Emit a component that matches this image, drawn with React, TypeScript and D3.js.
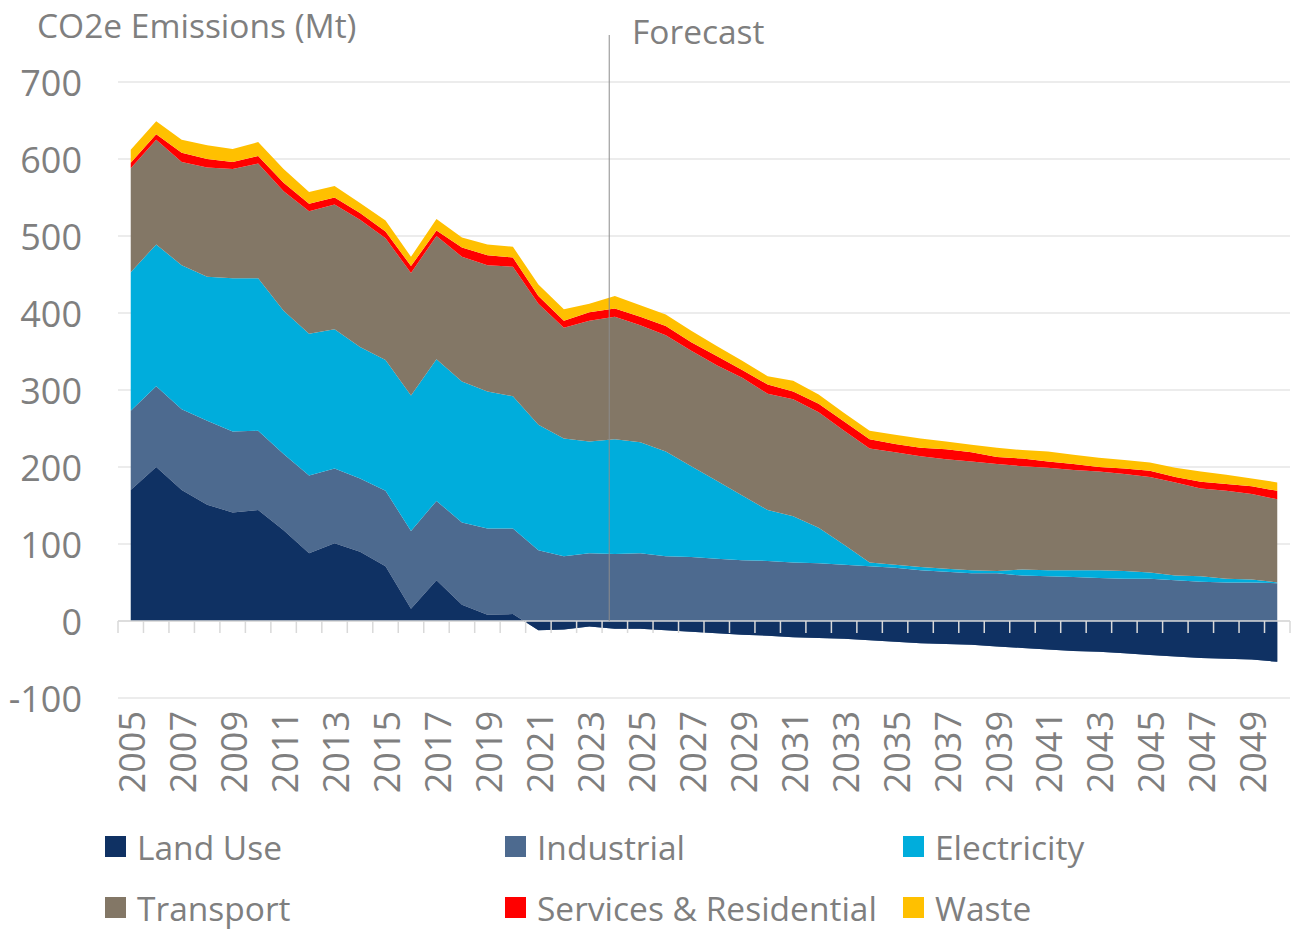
import React from "react";
import * as d3 from "d3";

const years: number[] = d3.range(2005, 2051);
const landUse = [170, 200, 170, 151, 141, 144, 118, 88, 101, 90, 71, 16, 53, 21, 8, 9, -12, -11, -7, -10, -10, -12, -14, -16, -18, -19, -21, -22, -23, -25, -27, -29, -30, -31, -33, -35, -37, -39, -40, -42, -44, -46, -48, -49, -50, -53];
const industrial = [103, 105, 105, 109, 105, 103, 99, 101, 97, 95, 98, 101, 103, 107, 112, 111, 104, 95, 95, 97, 98, 96, 97, 97, 97, 97, 97, 97, 96, 96, 96, 95, 94, 93, 95, 94, 95, 96, 96, 97, 99, 99, 99, 99, 100, 102];
const electricity = [180, 184, 187, 187, 199, 198, 186, 184, 181, 171, 170, 176, 184, 183, 178, 172, 163, 153, 145, 149, 144, 136, 118, 101, 84, 66, 60, 46, 26, 5, 4, 4, 4, 4, 3, 8, 8, 9, 10, 10, 8, 6, 7, 5, 4, 1];
const transport = [135, 136, 134, 142, 142, 149, 155, 159, 162, 165, 158, 159, 160, 162, 164, 168, 157, 144, 157, 159, 152, 151, 150, 150, 153, 151, 152, 150, 148, 148, 146, 144, 142, 141, 139, 134, 133, 130, 128, 126, 124, 121, 114, 114, 111, 108];
const services = [7, 7, 12, 11, 9, 10, 11, 10, 9, 9, 9, 9, 7, 12, 13, 12, 10, 9, 11, 11, 11, 12, 11, 12, 10, 12, 10, 11, 12, 12, 11, 11, 13, 12, 9, 10, 8, 8, 6, 7, 8, 7, 9, 9, 10, 11];
const waste = [17, 17, 17, 18, 17, 18, 18, 15, 15, 13, 14, 12, 15, 13, 14, 14, 15, 15, 11, 16, 15, 15, 15, 13, 12, 11, 14, 12, 11, 11, 12, 12, 10, 10, 12, 11, 13, 12, 12, 11, 11, 12, 13, 12, 10, 11];

const seriesNames = ["Land Use", "Industrial", "Electricity", "Transport", "Services & Residential", "Waste"];
const seriesColors = ["#0F3163", "#4D6A8F", "#00ADDC", "#837766", "#FF0000", "#FFC000"];
const yTicks = [-100, 0, 100, 200, 300, 400, 500, 600, 700];
const forecastYear = 2024;

const W = 1294;
const H = 930;
const FONT = "'Open Sans', 'Noto Sans', sans-serif";
const TEXT = "#7f7f7f";
const WORD_SIZE = 33.5;
const NUM_SIZE = 36;

export default function App() {
  const allSeries = [landUse, industrial, electricity, transport, services, waste];
  const rows = years.map((yr, i) => {
    const r: any = { year: yr };
    seriesNames.forEach((k, j) => (r[k] = allSeries[j][i]));
    return r;
  });
  const stacked = d3.stack<any>().keys(seriesNames).offset(d3.stackOffsetNone)(rows);

  const x = d3.scaleBand<number>().domain(years).range([118, 1290]).paddingInner(0).paddingOuter(0);
  const bw = x.bandwidth();
  const cx = (yr: number) => (x(yr) as number) + bw / 2;
  const y = d3.scaleLinear().domain([-100, 700]).range([698, 82]);

  const area = d3
    .area<any>()
    .x((d) => cx(d.data.year))
    .y0((d) => y(d[0]))
    .y1((d) => y(d[1]));

  const drawOrder = [1, 2, 3, 4, 5, 0];
  const fx = cx(forecastYear) - bw * 0.22;

  const legendCols = [105, 505, 903];
  const legendRows = [847, 908];

  return (
    <svg width={W} height={H} style={{ position: "absolute", left: 0, top: 0, background: "#fff" }} fontFamily={FONT}>
      {yTicks.map((t) => (
        <line key={"g" + t} x1={118} x2={1290} y1={y(t)} y2={y(t)} stroke="#d9d9d9" strokeWidth={1.2} />
      ))}
      {drawOrder.map((j) => (
        <path key={seriesNames[j]} d={area(stacked[j] as any) || ""} fill={seriesColors[j]} />
      ))}
      <line x1={118} x2={1290} y1={y(0)} y2={y(0)} stroke="#d9d9d9" strokeWidth={1.5} />
      {years.concat([2051]).map((yr, i) => {
        const xx = 118 + i * bw;
        return <line key={"t" + yr} x1={xx} x2={xx} y1={y(0)} y2={y(0) + 12} stroke="#d9d9d9" strokeWidth={1.5} />;
      })}
      <line x1={fx} x2={fx} y1={35} y2={y(0)} stroke="#8c8c8c" strokeWidth={1} />
      <text x={632} y={31} dominantBaseline="central" fontSize={WORD_SIZE} fill={TEXT}>Forecast</text>
      <text x={37} y={25} dominantBaseline="central" fontSize={WORD_SIZE} fill={TEXT}>CO2e Emissions (Mt)</text>
      {yTicks.map((t) => (
        <text key={"yl" + t} x={82} y={y(t)} textAnchor="end" dominantBaseline="central" fontSize={NUM_SIZE} fill={TEXT}>
          {t}
        </text>
      ))}
      {years.filter((yr) => (yr - 2005) % 2 === 0).map((yr) => (
        <text
          key={"xl" + yr}
          transform={`translate(${cx(yr) + 1},${711}) rotate(-90)`}
          textAnchor="end"
          dominantBaseline="central"
          fontSize={NUM_SIZE}
          fill={TEXT}
        >
          {yr}
        </text>
      ))}
      {seriesNames.map((name, j) => {
        const lx = legendCols[j % 3];
        const ly = legendRows[Math.floor(j / 3)];
        return (
          <g key={"lg" + name}>
            <rect x={lx} y={ly - 11} width={21} height={21} fill={seriesColors[j]} />
            <text x={lx + 32} y={ly} dominantBaseline="central" fontSize={WORD_SIZE} fill={TEXT}>
              {name}
            </text>
          </g>
        );
      })}
    </svg>
  );
}
